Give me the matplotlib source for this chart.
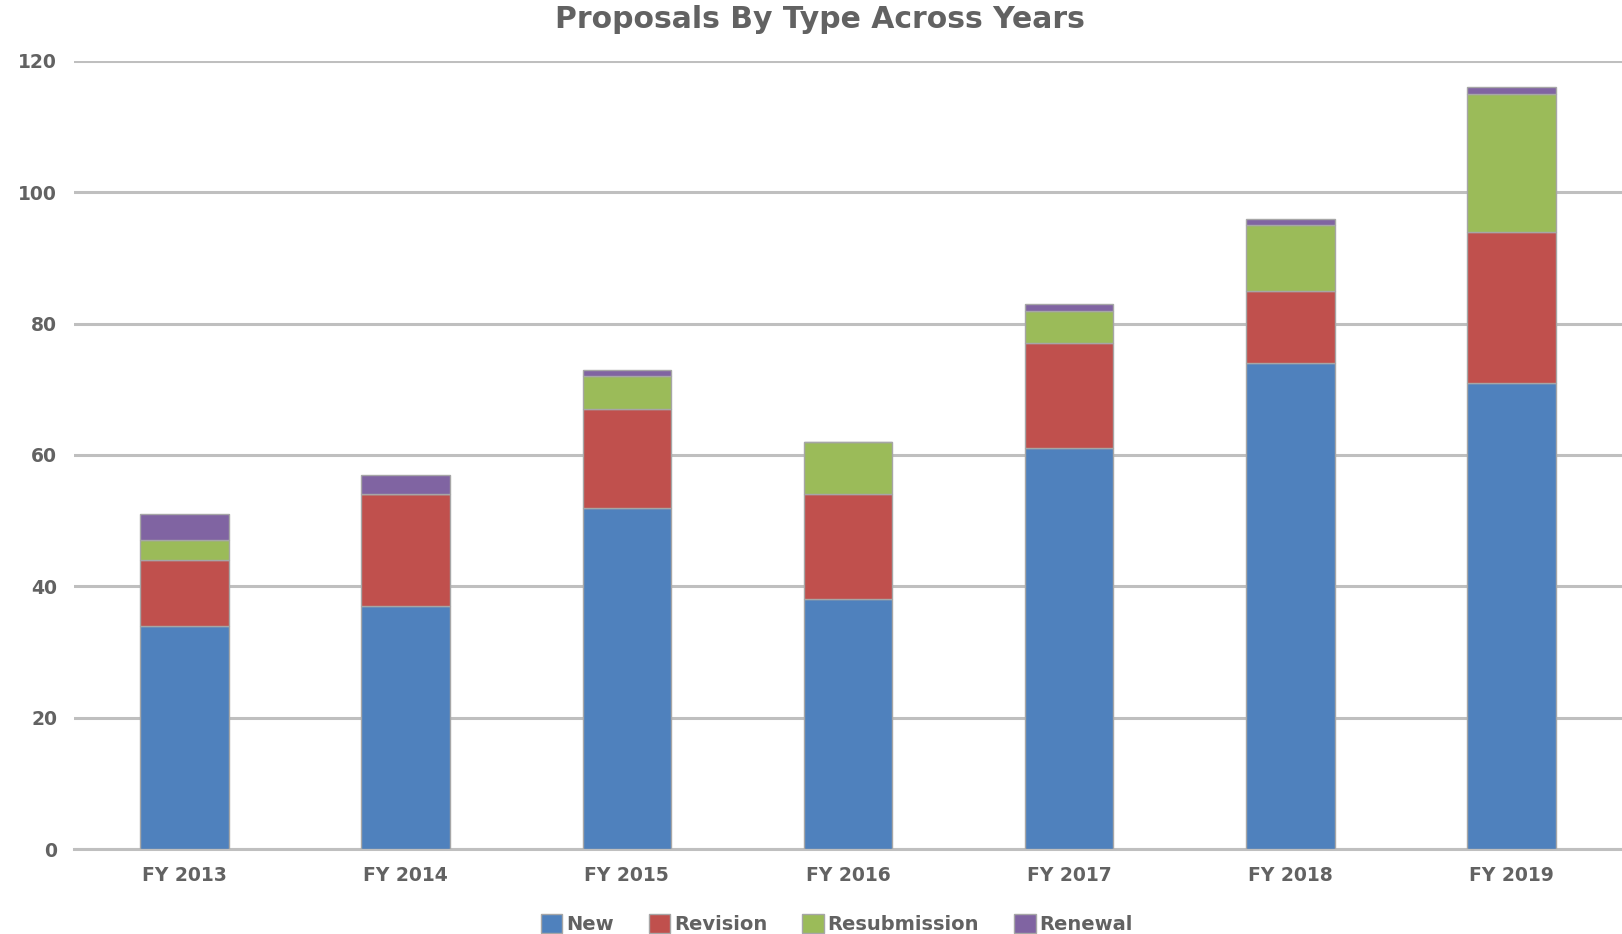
import matplotlib
matplotlib.use("Agg")
import matplotlib.pyplot as plt
import numpy as np

years = ["FY 2013", "FY 2014", "FY 2015", "FY 2016", "FY 2017", "FY 2018", "FY 2019"]
new = [34, 37, 52, 38, 61, 74, 71]
revision = [10, 17, 15, 16, 16, 11, 23]
resubmission = [3, 0, 5, 8, 5, 10, 21]
renewal = [4, 3, 1, 0, 1, 1, 1]

series = [("New", new, "#4F81BD"),
          ("Revision", revision, "#C0504D"),
          ("Resubmission", resubmission, "#9BBB59"),
          ("Renewal", renewal, "#8064A2")]

TXT = "#626262"

fig = plt.figure(figsize=(16.22, 9.34), dpi=100)
ax = fig.add_axes([0.0456, 0.091, 0.9544, 0.8437])

x = np.arange(len(years))
bottom = np.zeros(len(years))
handles = []
for name, vals, col in series:
    v = np.array(vals, dtype=float)
    b = ax.bar(x, v, 0.40, bottom=bottom, color=col, edgecolor="#A6A6A6",
               linewidth=1.0, label=name, zorder=3)
    handles.append(b)
    bottom += v

ax.set_ylim(0, 120)
ax.set_xlim(-0.5, 6.5)
ax.set_yticks(range(0, 121, 20))
ax.set_xticks(x)
ax.set_xticklabels(years)
ax.yaxis.grid(True, color="#BFBFBF", linewidth=2.2, zorder=0)
ax.set_axisbelow(True)
for s in ["top", "right", "left"]:
    ax.spines[s].set_visible(False)
ax.spines["bottom"].set_color("#BFBFBF")
ax.spines["bottom"].set_linewidth(2.2)
ax.tick_params(axis="both", length=0, labelsize=13.5, colors=TXT)
ax.tick_params(axis="y", pad=12)
ax.tick_params(axis="x", pad=12)
for lab in ax.get_xticklabels() + ax.get_yticklabels():
    lab.set_family("DejaVu Sans")
    lab.set_fontweight("bold")

fig.text(0.5057, 0.979, "Proposals By Type Across Years", ha="center", va="center",
         fontsize=21.5, color=TXT, family="DejaVu Sans", fontweight="bold")

leg = fig.legend(handles=handles, labels=[s[0] for s in series], loc="center",
                 bbox_to_anchor=(0.516, 0.0105), ncol=4, frameon=False,
                 handlelength=1.1, handleheight=1.1,
                 handletextpad=0.2, columnspacing=1.8,
                 prop={"family": "DejaVu Sans", "size": 14, "weight": "bold"})
for t in leg.get_texts():
    t.set_color(TXT)

fig.savefig("out.png", dpi=100)
